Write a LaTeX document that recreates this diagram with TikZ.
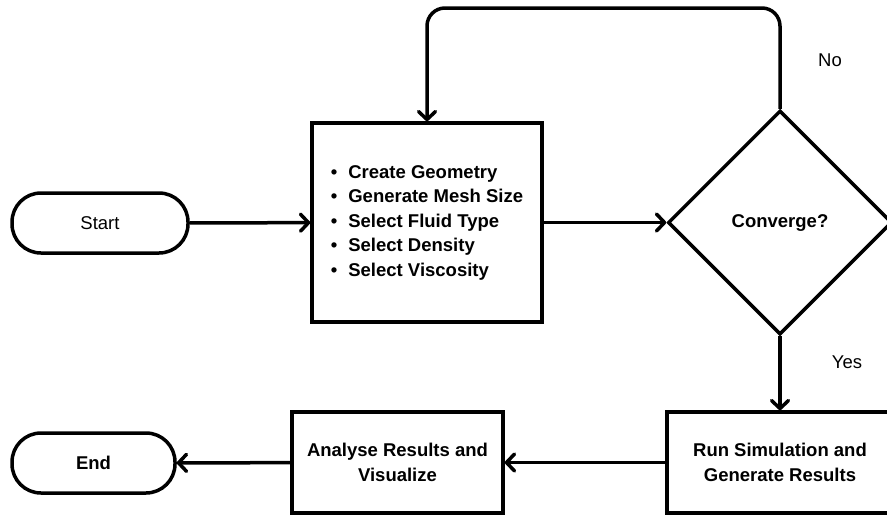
\documentclass[tikz,border=0pt]{standalone}
\usepackage{fontspec}
\setmainfont{Liberation Sans}
\usetikzlibrary{arrows.meta,shapes.geometric}
\tikzset{
  base/.style={draw=black, line width=3.5pt, font=\fontsize{18.5}{24.5}\selectfont, text=black, inner sep=0pt},
  term/.style={base, rounded corners=29pt, minimum height=60pt},
  procbox/.style={base, rectangle, align=center, font=\fontsize{18.5}{24.5}\selectfont\bfseries},
  decision/.style={base, diamond, aspect=1, minimum width=224pt, minimum height=224pt, font=\fontsize{18.5}{24.5}\selectfont\bfseries},
  conn/.style={line width=3.5pt, -{Straight Barb[length=8pt,width=17pt,line width=3.5pt,line cap=round,line join=round]}},
  lbl/.style={font=\fontsize{18.5}{22}\selectfont, text=black, inner sep=0pt}
}
\begin{document}
\begin{tikzpicture}[x=1pt,y=-1pt]
\useasboundingbox (0,0) rectangle (887,515);
\node[term, minimum width=176pt] (start) at (100,223) {Start};
\node[procbox, minimum width=230pt, minimum height=199pt, align=left] (setup) at (427,222.5)
  {\textbullet\hspace{11pt}Create Geometry\\
   \textbullet\hspace{11pt}Generate Mesh Size\\
   \textbullet\hspace{11pt}Select Fluid Type\\
   \textbullet\hspace{11pt}Select Density\\
   \textbullet\hspace{11pt}Select Viscosity};
\node[decision] (conv) at (780,222.5) {Converge?};
\node[procbox, minimum width=226pt, minimum height=101pt] (run) at (780,462.5) {Run Simulation and\\Generate Results};
\node[procbox, minimum width=211pt, minimum height=101pt] (anal) at (397.5,462.5) {Analyse Results and\\Visualize};
\node[term, minimum width=163pt, font=\fontsize{18.5}{24.5}\selectfont\bfseries] (end) at (93.5,463) {End};
\coordinate (top) at (600,8);
\draw[conn] (start) -- (setup);
\draw[conn] (setup) -- (conv);
\draw[conn, rounded corners=18pt] (conv.north) |- (top) -| (setup.north);
\draw[conn] (conv.south) -- (run.north);
\draw[conn] (run) -- (anal);
\draw[conn] (anal) -- (end);
\node[lbl] (no) at (830,60) {No};
\node[lbl] (yes) at (847,362) {Yes};
\end{tikzpicture}
\end{document}
